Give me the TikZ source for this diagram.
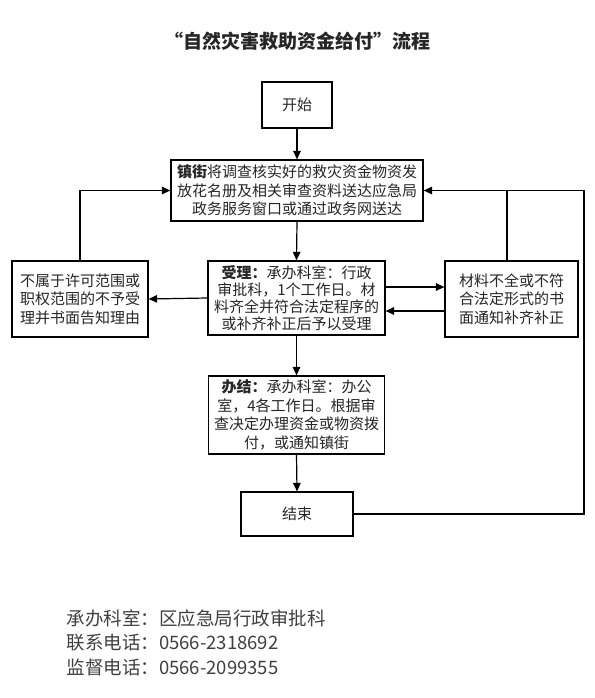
\documentclass[tikz,border=0pt]{standalone}
\usepackage{fontspec}
\setmainfont{Noto Sans CJK SC}
\usetikzlibrary{arrows.meta}
\begin{document}
\begin{tikzpicture}[x=1pt,y=-1pt,
  box/.style={draw, line width=1.2pt, align=center, inner sep=0pt, text=black!85, font=\fontsize{15}{18.5}\selectfont},
  arr/.style={-{Triangle[length=8.5pt,width=7.5pt]}, line width=1.2pt},
  ln/.style={line width=1.2pt},
  foot/.style={anchor=west, text=black!75, font=\fontsize{18.5}{21}\selectfont}]
\useasboundingbox[fill=white] (0,0) rectangle (594,698);
\node[font=\bfseries\fontsize{19}{22}\selectfont, text=black!85] (title) at (297,41) {“自然灾害救助资金给付”流程};
\node[box, minimum width=70pt, minimum height=46pt] (start) at (297,105) {开始};
\node[box, minimum width=252pt, minimum height=61pt] (box2) at (297,190.5) {\textbf{镇街}将调查核实好的救灾资金物资发\\放花名册及相关审查资料送达应急局\\政务服务窗口或通过政务网送达};
\node[box, minimum width=136pt, minimum height=76pt] (left) at (80,299) {不属于许可范围或\\职权范围的不予受\\理并书面告知理由};
\node[box, minimum width=177pt, minimum height=74pt, font=\fontsize{15}{17}\selectfont] (mid) at (296.5,298) {\textbf{受理：}承办科室：行政\\审批科，1个工作日。材\\料齐全并符合法定程序的\\或补齐补正后予以受理};
\node[box, minimum width=133pt, minimum height=76pt] (right) at (511.5,299) {材料不全或不符\\合法定形式的书\\面通知补齐补正};
\node[box, minimum width=176pt, minimum height=78pt] (banjie) at (296.5,415) {\textbf{办结：}承办科室：办公\\室，4各工作日。根据审\\查决定办理资金或物资拨\\付，或通知镇街};
\node[box, minimum width=112pt, minimum height=44pt] (end) at (297,514) {结束};
\draw[arr] (start.south) -- (box2.north);
\draw[arr] (box2.south) -- (mid.north);
\draw[arr] (mid.south) -- (banjie.north);
\draw[arr] (banjie.south) -- (end.north);
\draw[arr] (mid.west) -- (left.east);
\coordinate (m1) at ([yshift=11pt]mid.east);
\coordinate (m2) at ([yshift=-13pt]mid.east);
\draw[arr] (m1) -- (m1 -| right.west);
\draw[arr] (m2 -| right.west) -- (m2);
\draw[arr] (left.north) |- (box2.west);
\coordinate (rj) at (584,190.5);
\draw[arr] (end.east) -| (rj) -- (box2.east);
\coordinate (rt) at ([xshift=-4.5pt]right.north);
\draw[ln] (rt) -- (rt |- box2.east);
\node[foot] (f1) at (63,618) {承办科室：区应急局行政审批科};
\node[foot] (f2) at (63,643) {联系电话：0566-2318692};
\node[foot] (f3) at (63,667) {监督电话：0566-2099355};
\end{tikzpicture}
\end{document}
